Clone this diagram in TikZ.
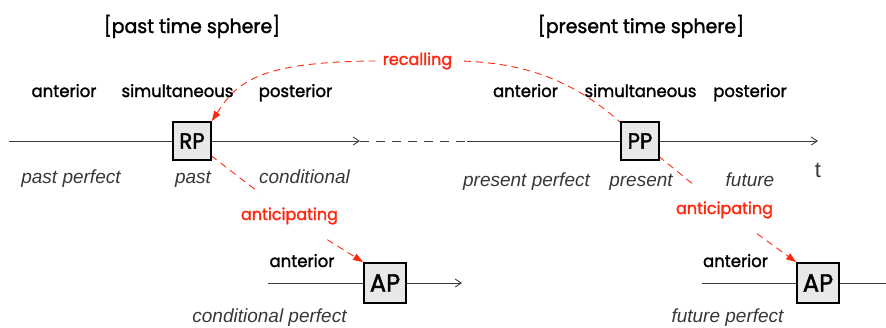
\documentclass[tikz,border=0pt]{standalone}
\usepackage{fontspec}
\usepackage{tikz}
\usetikzlibrary{arrows.meta,backgrounds}
\newfontfamily\spherefont[FakeBold=1.6,FakeStretch=0.97]{Poppins}
\newfontfamily\tensefont{Liberation Sans}
\definecolor{recallred}{RGB}{255,40,15}
\definecolor{boxgray}{RGB}{232,232,232}
\definecolor{linegray}{RGB}{60,60,60}
\definecolor{tensegray}{RGB}{55,55,55}

\begin{document}
\begin{tikzpicture}[x=1pt,y=-1pt,
    timebox/.style={draw=black,line width=1.8pt,fill=boxgray,minimum width=38pt,
      minimum height=38pt,inner sep=0pt,font=\spherefont\fontsize{22}{22}\selectfont},
    apbox/.style={timebox,minimum width=42pt,minimum height=40pt,
      font=\spherefont\fontsize{25}{25}\selectfont},
    title/.style={anchor=base,font=\spherefont\fontsize{19.5}{19.5}\selectfont},
    relation/.style={anchor=base,font=\spherefont\fontsize{17}{17}\selectfont},
    tense/.style={anchor=base,text=tensegray,font=\tensefont\itshape\fontsize{19}{19}\selectfont},
    move/.style={anchor=base,text=recallred,inner xsep=7pt,
      font=\spherefont\fontsize{16.5}{16.5}\selectfont},
    movegap/.style={move,inner xsep=2pt,inner ysep=15pt},
    tline/.style={draw=linegray,line width=0.9pt},
    tarrow/.style={-{Straight Barb[length=6pt,width=8pt]}},
    redpath/.style={draw=recallred,line width=0.9pt,dash pattern=on 7pt off 5pt},
    redarrow/.style={-{Triangle[length=10pt,width=7pt]}}
  ]
  \useasboundingbox (0,0) rectangle (886,327);

  % time points
  \node[timebox] (RP) at (192,141) {RP};
  \node[timebox] (PP) at (640,141) {PP};
  \node[apbox] (APc) at (385,283) {AP};
  \node[apbox] (APf) at (818,283) {AP};

  % spheres
  \node[title] (pasttitle) at (192,33) {[past time sphere]};
  \node[title] (prestitle) at (641,33) {[present time sphere]};

  \node[relation] (pastant) at (64,97) {anterior};
  \node[relation] (pastsim) at (177.5,97) {simultaneous};
  \node[relation] (pastpost) at (295.5,97) {posterior};
  \node[relation] (presant) at (525.5,97) {anterior};
  \node[relation] (pressim) at (640.5,97) {simultaneous};
  \node[relation] (prespost) at (750,97) {posterior};
  \node[relation] (condant) at (302,267) {anterior};
  \node[relation] (futant) at (735.5,267) {anterior};

  % tenses
  \node[tense] (pastperf) at (71,183) {past perfect};
  \node[tense] (past) at (193,183) {past};
  \node[tense] (cond) at (304.5,183) {conditional};
  \node[tense] (presperf) at (526.5,186) {present perfect};
  \node[tense] (pres) at (641,186) {present};
  \node[tense] (fut) at (750,186) {future};
  \node[tense] (condperf) at (269.5,322) {conditional perfect};
  \node[tense] (futperf) at (727.5,322) {future perfect};
  \node[anchor=base,text=tensegray,font=\tensefont\fontsize{22}{22}\selectfont] (t) at (818,177) {t};

  % moves
  \node[move] (recall) at (417.5,65) {recalling};
  \node[movegap] (anticond) at (289.5,220) {anticipating};
  \node[movegap] (antifut) at (724.5,214) {anticipating};

  \coordinate (pastbeg) at (9,141);
  \coordinate (pastend) at (360,141);
  \coordinate (presbeg) at (467,141);
  \coordinate (presend) at (818,141);
  \coordinate (condbeg) at (268,283);
  \coordinate (condend) at (462,283);
  \coordinate (futbeg) at (702,283);
  \coordinate (futend) at (886,283);

  \begin{scope}[on background layer]
    \draw[tline,tarrow] (pastbeg) -- (pastend);
    \draw[tline,dash pattern=on 9pt off 7pt] (pastend) -- (presbeg);
    \draw[tline,tarrow] (presbeg) -- (presend);
    \draw[tline,tarrow] (condbeg) -- (condend);
    \draw[tline] (futbeg) -- (futend);

    \draw[redpath] (PP.center) .. controls (590,90) and (540,63) .. (recall.east);
    \draw[redpath,redarrow] (recall.west) .. controls (262,62) and (238,80) .. (RP.north east);
    \draw[redpath] (RP.center) -- (anticond);
    \draw[redpath,redarrow] (anticond) -- (APc.north west);
    \draw[redpath] (PP.center) -- (antifut);
    \draw[redpath,redarrow] (antifut) -- (APf.north west);
  \end{scope}
\end{tikzpicture}
\end{document}
